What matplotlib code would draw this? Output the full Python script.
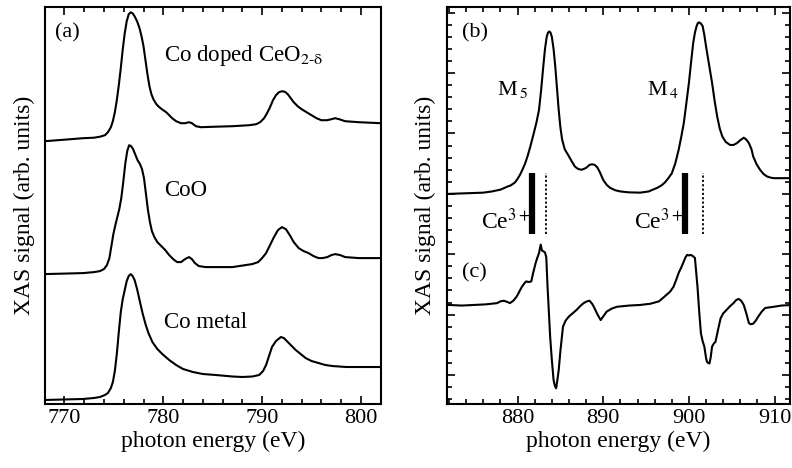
import numpy as np
import matplotlib.pyplot as plt
from matplotlib.ticker import MultipleLocator

plt.rcParams['font.family'] = ['Liberation Serif', 'DejaVu Serif']
plt.rcParams['mathtext.fontset'] = 'stix'

# (a) Co L-edge (arb. units)
e_codoped = [768.0, 770.0, 771.9, 773.0, 773.6, 774.1, 774.4, 774.7, 774.9, 775.1, 775.3, 775.5,
             775.7, 775.9, 776.1, 776.3, 776.5, 776.7, 776.9, 777.1, 777.35, 777.6, 777.8, 778.0,
             778.2, 778.4, 778.6, 778.8, 779.0, 779.3, 779.6, 780.0, 780.3, 780.6, 780.9, 781.3,
             781.8, 782.2, 782.6, 782.9, 783.3, 783.8, 785.3, 787.0, 788.7, 789.4, 789.8, 790.2,
             790.5, 790.8, 791.1, 791.4, 791.7, 792.0, 792.3, 792.6, 792.9, 793.2, 793.6, 794.0,
             794.5, 795.0, 795.5, 796.0, 796.6, 797.0, 797.4, 797.8, 798.4, 799.8, 802.0]
y_codoped = [2.63, 2.645, 2.66, 2.665, 2.675, 2.69, 2.72, 2.77, 2.83, 2.92, 3.04, 3.19,
             3.36, 3.55, 3.71, 3.83, 3.90, 3.92, 3.91, 3.88, 3.83, 3.76, 3.68, 3.58,
             3.44, 3.30, 3.18, 3.10, 3.05, 3.00, 2.97, 2.94, 2.92, 2.89, 2.86, 2.83,
             2.81, 2.81, 2.82, 2.81, 2.78, 2.77, 2.775, 2.78, 2.79, 2.80, 2.82, 2.86,
             2.91, 2.97, 3.04, 3.09, 3.12, 3.13, 3.125, 3.10, 3.06, 3.02, 2.98, 2.95,
             2.92, 2.89, 2.86, 2.84, 2.84, 2.85, 2.86, 2.85, 2.83, 2.82, 2.81]

e_coo = [768.0, 770.0, 771.9, 773.0, 773.6, 774.0, 774.3, 774.55, 774.75, 774.95, 775.15, 775.35,
         775.55, 775.75, 775.95, 776.15, 776.35, 776.55, 776.75, 776.95, 777.15, 777.4, 777.65, 777.85,
         778.05, 778.25, 778.45, 778.65, 778.85, 779.1, 779.4, 779.8, 780.2, 780.6, 781.0, 781.4,
         781.8, 782.2, 782.6, 782.9, 783.2, 783.6, 784.3, 787.0, 789.0, 789.6, 790.0, 790.4,
         790.8, 791.2, 791.6, 792.0, 792.4, 792.8, 793.2, 793.7, 794.2, 794.7, 795.2, 795.7,
         796.1, 796.6, 797.0, 797.4, 797.9, 798.4, 799.8, 802.0]
y_coo = [1.30, 1.305, 1.31, 1.32, 1.33, 1.35, 1.39, 1.46, 1.58, 1.70, 1.79, 1.87,
         1.95, 2.06, 2.22, 2.40, 2.53, 2.59, 2.58, 2.55, 2.50, 2.44, 2.40, 2.35,
         2.26, 2.10, 1.94, 1.82, 1.73, 1.67, 1.62, 1.58, 1.54, 1.49, 1.45, 1.42,
         1.42, 1.45, 1.47, 1.45, 1.41, 1.38, 1.37, 1.37, 1.40, 1.42, 1.46, 1.51,
         1.59, 1.67, 1.74, 1.77, 1.75, 1.69, 1.62, 1.56, 1.53, 1.51, 1.48, 1.46,
         1.46, 1.47, 1.49, 1.50, 1.49, 1.47, 1.46, 1.46]

e_cometal = [768.0, 770.0, 771.9, 773.0, 773.6, 774.1, 774.4, 774.7, 774.9, 775.1, 775.3, 775.5,
             775.7, 775.9, 776.1, 776.3, 776.5, 776.7, 776.9, 777.1, 777.35, 777.6, 777.9, 778.2,
             778.5, 778.9, 779.4, 779.9, 780.6, 781.3, 782.0, 783.0, 784.0, 785.3, 787.0, 788.0,
             789.0, 789.7, 790.1, 790.4, 790.7, 791.0, 791.4, 791.9, 792.2, 792.5, 793.0, 793.4,
             793.9, 794.4, 795.0, 795.7, 796.4, 797.1, 798.5, 802.0]
y_cometal = [0.04, 0.045, 0.05, 0.06, 0.07, 0.09, 0.11, 0.16, 0.22, 0.33, 0.50, 0.72,
             0.92, 1.05, 1.14, 1.23, 1.28, 1.30, 1.28, 1.24, 1.15, 1.04, 0.91, 0.80,
             0.71, 0.62, 0.55, 0.50, 0.44, 0.39, 0.35, 0.32, 0.30, 0.29, 0.275, 0.27,
             0.275, 0.29, 0.33, 0.39, 0.48, 0.57, 0.63, 0.67, 0.66, 0.63, 0.58, 0.54,
             0.50, 0.46, 0.43, 0.41, 0.39, 0.38, 0.37, 0.37]

# (b) Ce M-edge XAS
e_b = [872.0, 874.0, 876.0, 877.0, 878.0, 878.5, 878.8, 879.2, 879.7, 880.0, 880.3, 880.6,
       880.9, 881.2, 881.5, 881.7, 881.9, 882.2, 882.5, 882.75, 883.0, 883.2, 883.4, 883.55,
       883.7, 883.85, 884.0, 884.2, 884.4, 884.6, 884.8, 885.0, 885.2, 885.5, 886.0, 886.4,
       886.7, 887.1, 887.5, 888.0, 888.4, 888.7, 889.0, 889.3, 889.6, 890.0, 890.4, 890.8,
       891.4, 892.0, 893.0, 894.3, 895.3, 896.3, 896.8, 897.2, 897.6, 898.0, 898.4, 898.8,
       899.1, 899.4, 899.7, 900.0, 900.25, 900.5, 900.7, 900.9, 901.05, 901.2, 901.4, 901.6,
       901.8, 902.0, 902.35, 902.7, 903.0, 903.3, 903.6, 903.9, 904.3, 904.8, 905.2, 905.6,
       906.0, 906.4, 906.7, 907.0, 907.3, 907.5, 907.9, 908.3, 908.7, 909.1, 909.5, 909.9,
       912.0]
y_b = [3.00, 3.01, 3.02, 3.04, 3.07, 3.10, 3.12, 3.14, 3.19, 3.25, 3.32, 3.41,
       3.51, 3.64, 3.79, 3.90, 4.01, 4.18, 4.39, 4.72, 5.11, 5.40, 5.60, 5.67,
       5.69, 5.67, 5.60, 5.40, 5.11, 4.75, 4.39, 4.10, 3.90, 3.74, 3.62, 3.52,
       3.45, 3.41, 3.40, 3.43, 3.48, 3.49, 3.48, 3.44, 3.36, 3.23, 3.15, 3.10,
       3.06, 3.04, 3.025, 3.02, 3.04, 3.10, 3.14, 3.19, 3.26, 3.34, 3.50, 3.73,
       3.94, 4.17, 4.50, 4.84, 5.18, 5.50, 5.67, 5.78, 5.83, 5.84, 5.82, 5.78,
       5.63, 5.44, 5.14, 4.84, 4.54, 4.28, 4.08, 3.95, 3.86, 3.81, 3.81, 3.84,
       3.89, 3.93, 3.90, 3.84, 3.74, 3.62, 3.49, 3.40, 3.33, 3.29, 3.27, 3.26,
       3.26]

# (c) difference spectrum
e_c = [872.0, 873.5, 874.9, 876.3, 877.6, 878.0, 878.4, 878.8, 879.1, 879.5, 879.9, 880.2,
       880.5, 880.8, 881.0, 881.3, 881.6, 881.8, 882.1, 882.3, 882.5, 882.7, 882.85, 883.0,
       883.2, 883.35, 883.5, 883.65, 883.8, 884.0, 884.2, 884.35, 884.5, 884.65, 884.8, 885.0,
       885.3, 885.6, 886.0, 886.5, 886.9, 887.3, 887.7, 888.1, 888.4, 888.7, 888.9, 889.3,
       889.7, 890.0, 890.4, 891.0, 891.6, 893.0, 894.3, 895.5, 896.5, 897.0, 897.4, 897.8,
       898.2, 898.5, 898.8, 899.1, 899.4, 899.6, 899.8, 900.0, 900.2, 900.45, 900.7, 900.85,
       901.0, 901.2, 901.4, 901.6, 901.8, 902.0, 902.1, 902.25, 902.4, 902.55, 902.7, 902.9,
       903.1, 903.4, 903.7, 904.0, 904.4, 904.8, 905.2, 905.5, 905.8, 906.1, 906.4, 906.7,
       907.0, 907.2, 907.5, 907.8, 908.1, 908.5, 908.9, 909.4, 909.9, 910.8, 912.0]
y_c = [1.16, 1.15, 1.16, 1.17, 1.19, 1.22, 1.23, 1.21, 1.19, 1.23, 1.30, 1.38,
       1.46, 1.52, 1.55, 1.54, 1.55, 1.68, 1.85, 1.94, 2.02, 2.16, 2.06, 2.05,
       2.03, 1.95, 1.46, 1.05, 0.64, 0.25, -0.08, -0.18, -0.22, -0.08, 0.08, 0.40,
       0.80, 0.90, 0.97, 1.03, 1.08, 1.14, 1.19, 1.22, 1.23, 1.18, 1.13, 1.01,
       0.91, 0.97, 1.05, 1.10, 1.13, 1.15, 1.16, 1.18, 1.22, 1.28, 1.33, 1.38,
       1.46, 1.57, 1.69, 1.78, 1.88, 1.95, 1.99, 1.98, 1.99, 1.97, 1.94, 1.70,
       1.46, 1.05, 0.69, 0.56, 0.47, 0.28, 0.22, 0.20, 0.19, 0.30, 0.47, 0.52,
       0.55, 0.75, 0.94, 1.02, 1.08, 1.14, 1.19, 1.24, 1.26, 1.23, 1.16, 1.02,
       0.86, 0.84, 0.85, 0.90, 0.97, 1.05, 1.11, 1.12, 1.13, 1.15, 1.16]

ce3_solid = [881.7, 899.6]
ce3_dotted = [883.3, 901.6]

fig = plt.figure(figsize=(7.92, 4.68), dpi=100)
ax1 = fig.add_axes([0.0564, 0.1368, 0.4243, 0.8476])
ax2 = fig.add_axes([0.5648, 0.1368, 0.4327, 0.8476])

lw = 1.5
ax1.plot(e_codoped, y_codoped, color='black', lw=lw)
ax1.plot(e_coo, y_coo, color='black', lw=lw)
ax1.plot(e_cometal, y_cometal, color='black', lw=lw)
ax1.set_xlim(768, 802)
ax1.set_ylim(0, 3.97)
ax1.xaxis.set_major_locator(MultipleLocator(10))
ax1.xaxis.set_minor_locator(MultipleLocator(2))
ax1.set_yticks([])
ax1.tick_params(axis='x', which='both', direction='in', top=True, labelsize=16)
ax1.tick_params(axis='x', which='major', length=6, width=1.2)
ax1.tick_params(axis='x', which='minor', length=3.5, width=1.2)
ax1.set_xlabel('photon energy (eV)', fontsize=17, labelpad=2)
ax1.set_ylabel('XAS signal (arb. units)', fontsize=17, labelpad=7)
ax1.text(769.0, 3.71, '(a)', fontsize=16, va='center')
ax1.text(780.1, 3.49, r'Co doped CeO$_{\mathrm{2}\text{-}\mathrm{δ}}$', fontsize=16.5, va='center')
ax1.text(780.1, 2.14, 'CoO', fontsize=16.5, va='center')
ax1.text(780.1, 0.82, 'Co metal', fontsize=16.5, va='center')

ax2.plot(e_b, y_b, color='black', lw=lw)
ax2.plot(e_c, y_c, color='black', lw=lw)
for xs in ce3_solid:
    ax2.plot([xs, xs], [2.33, 3.35], color='black', lw=4.5, solid_capstyle='butt')
    ax2.text(xs - 0.2, 2.55, r'Ce$^{3+}$', fontsize=17, ha='right', va='center')
for xd in ce3_dotted:
    ax2.plot([xd, xd], [2.33, 3.35], color='black', lw=1.3, ls=(0, (1.2, 1.2)))
ax2.set_xlim(871.8, 911.8)
ax2.set_ylim(-0.48, 6.09)
ax2.xaxis.set_major_locator(MultipleLocator(10))
ax2.xaxis.set_minor_locator(MultipleLocator(2))
ax2.yaxis.set_major_locator(MultipleLocator(1))
ax2.yaxis.set_minor_locator(MultipleLocator(0.2))
ax2.tick_params(which='both', direction='in', top=True, right=True, labelleft=False, labelsize=16)
ax2.tick_params(which='major', length=6, width=1.2)
ax2.tick_params(which='minor', length=3.5, width=1.2)
ax2.set_xlabel('photon energy (eV)', fontsize=17, labelpad=2)
ax2.set_ylabel('XAS signal (arb. units)', fontsize=17, labelpad=8)
ax2.text(873.5, 5.67, '(b)', fontsize=16, va='center')
ax2.text(873.5, 1.69, '(c)', fontsize=16, va='center')
ax2.text(877.6, 4.73, r'M$_{\,5}$', fontsize=16, va='center')
ax2.text(895.1, 4.73, r'M$_{\,4}$', fontsize=16, va='center')

for ax in (ax1, ax2):
    for sp in ax.spines.values():
        sp.set_linewidth(1.5)

fig.savefig('out.png', dpi=100)
